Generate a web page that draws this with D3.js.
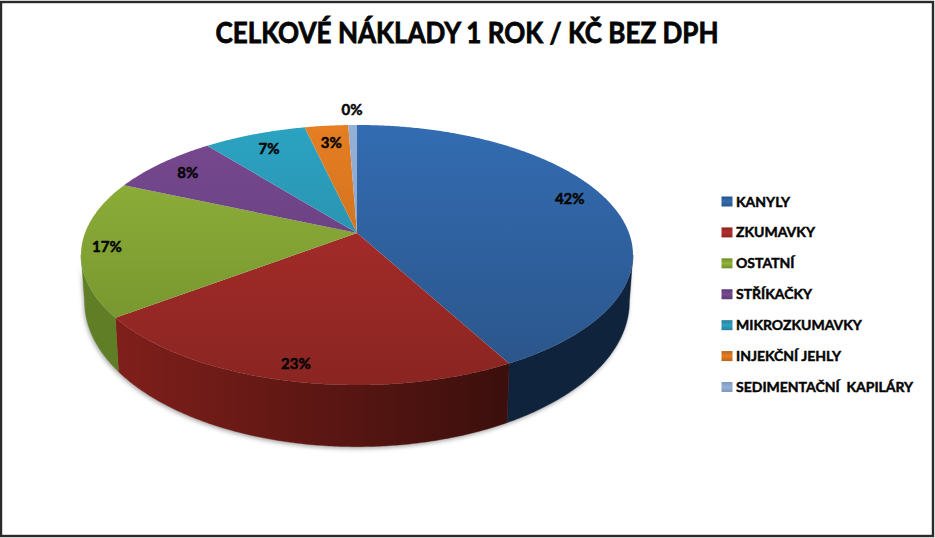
<!DOCTYPE html>
<html lang="cs"><head><meta charset="utf-8">
<script src="https://cdnjs.cloudflare.com/ajax/libs/d3/7.8.5/d3.min.js"></script>
<style>html,body{margin:0;padding:0;background:#fff}svg{display:block}
text{font-family:Lato,"Open Sans",sans-serif;font-weight:700;fill:#050505;stroke:#050505}</style>
</head><body><svg id="c" width="935" height="538"></svg>
<script>
const titleText = "CELKOVÉ NÁKLADY 1 ROK / KČ BEZ DPH";
const categories = ["KANYLY","ZKUMAVKY","OSTATNÍ","STŘÍKAČKY","MIKROZKUMAVKY","INJEKČNÍ JEHLY","SEDIMENTAČNÍ  KAPILÁRY"];
const values = [42.1,22.6,16.9,7.7,7.1,3.0,0.6];
const percentLabels = ["42%","23%","17%","8%","7%","3%","0%"];
const topColors = ["#336cb2","#b32f2c","#93b53b","#78498f","#2ba3c2","#e67e22","#95b0d8"];
const bottomColors = ["#2a5488","#8a2522","#6f8e2c","#5c3a78","#2a7f9c","#b8661c","#7f97bd"];
const wallLeft = ["#10233c","#801f1b","#5f7e26","#4a2d60","#1d6077","#8a4d14","#5c6d8a"];
const wallRight = ["#10233c","#3b0f0c","#6a8a2b","#4a2d60","#1d6077","#8a4d14","#5c6d8a"];
const labelRadius = [0.867,0.902,0.909,0.855,0.839,0.816,1.166];
const labelAngleShift = [-4.8,0,0,0,0,0,0];

const svg = d3.select("#c"), defs = svg.append("defs");
const P = 0.169, topGeom = {a:272,b:126.3,y:233}, baseGeom = {a:268.5,b:141,y:277}, CX = 357;
const project = (g,deg,r=1) => {
  const t = deg*Math.PI/180, u = r*Math.sin(t), v = r*Math.cos(t), w = 1+P*v;
  return [CX+g.a*u/w, g.y-g.b*v/w];
};
const line = d3.line();
const arcPts = (g,a0,a1) => { const n = Math.max(2,Math.ceil(Math.abs(a1-a0)*2));
  return d3.range(n+1).map(i=>project(g,a0+(a1-a0)*i/n)); };
const deg = d3.scaleLinear().domain([0,2*Math.PI]).range([0,360]);
const pie = d3.pie().sort(null).value(d=>d);
const arcs = pie(values).map((d,i)=>({i,a0:deg(d.startAngle),a1:deg(d.endAngle)}));

defs.append("filter").attr("id","blur").attr("x","-10%").attr("y","-10%").attr("width","120%").attr("height","120%")
  .append("feGaussianBlur").attr("stdDeviation",2.2);

arcs.forEach(a=>{
  const g = defs.append("linearGradient").attr("id","top"+a.i).attr("gradientUnits","userSpaceOnUse")
    .attr("x1",0).attr("x2",0).attr("y1",125).attr("y2",385);
  g.append("stop").attr("offset",0).attr("stop-color",topColors[a.i]);
  g.append("stop").attr("offset",1).attr("stop-color",bottomColors[a.i]);
  const h = defs.append("linearGradient").attr("id","wall"+a.i).attr("gradientUnits","userSpaceOnUse")
    .attr("x1",115).attr("x2",509).attr("y1",0).attr("y2",0);
  h.append("stop").attr("offset",0).attr("stop-color",wallLeft[a.i]);
  h.append("stop").attr("offset",1).attr("stop-color",wallRight[a.i]);
});

// frame
svg.append("rect").attr("x",1).attr("y",2).attr("width",932).attr("height",534)
  .attr("fill","#fff").attr("stroke","#2a2a2a").attr("stroke-width",2.4);

// title
svg.append("text").attr("x",467).attr("y",43).attr("text-anchor","middle")
  .attr("font-size",28).attr("stroke-width",0.8)
  .attr("textLength",503).attr("lengthAdjust","spacingAndGlyphs").text(titleText);

// walls
const WL0 = 99.7, WL1 = 260.3;
const wallPath = (a0,a1)=> line(arcPts(topGeom,a0,a1).concat(arcPts(baseGeom,a1,a0)))+"Z";
svg.append("path").attr("d",wallPath(WL0,WL1)).attr("transform","translate(-1,2)")
  .attr("fill","#555").attr("opacity",0.5).attr("filter","url(#blur)");
arcs.forEach(a=>{
  const s = Math.max(a.a0,WL0), e = Math.min(a.a1,WL1);
  if (e>s) svg.append("path").attr("d",wallPath(s,e)).attr("fill",`url(#wall${a.i})`)
    .attr("stroke",`url(#wall${a.i})`).attr("stroke-width",0.4);
});

// top faces
const apex = project(topGeom,0,0);
arcs.forEach(a=>{
  svg.append("path").attr("d",line([apex].concat(arcPts(topGeom,a.a0,a.a1)))+"Z")
    .attr("fill",`url(#top${a.i})`);
});

// labels
arcs.forEach(a=>{
  const [x,y] = project(topGeom,(a.a0+a.a1)/2+labelAngleShift[a.i],labelRadius[a.i]);
  svg.append("text").attr("x",x).attr("y",y).attr("dy","0.35em").attr("text-anchor","middle")
    .attr("font-size",15).attr("stroke-width",0.5).text(percentLabels[a.i]);
});

// legend
const legY = d3.scalePoint().domain(categories).range([201.5,387]);
categories.forEach((c,i)=>{
  const y = legY(c);
  const g = defs.append("linearGradient").attr("id","leg"+i).attr("x1",0).attr("x2",0).attr("y1",0).attr("y2",1);
  g.append("stop").attr("offset",0).attr("stop-color",bottomColors[i]);
  g.append("stop").attr("offset",0.5).attr("stop-color",topColors[i]);
  g.append("stop").attr("offset",1).attr("stop-color",bottomColors[i]);
  svg.append("rect").attr("x",721.5).attr("y",y-5).attr("width",11).attr("height",10).attr("fill",`url(#leg${i})`);
  svg.append("text").attr("x",736).attr("y",y).attr("dy","0.36em")
    .style("white-space","pre").attr("font-size",14).attr("stroke-width",0.45).text(c);
});
</script></body></html>
